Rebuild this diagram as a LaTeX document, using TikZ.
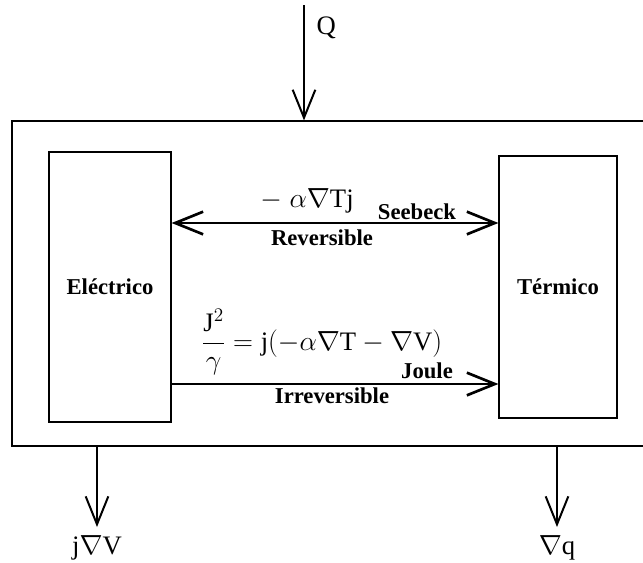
\documentclass[tikz,border=0pt]{standalone}
\usepackage{fontspec}
\setmainfont{Liberation Serif}
\usetikzlibrary{arrows.meta}
\tikzset{
  block/.style={draw, line width=0.9pt, font=\fontsize{17}{19}\selectfont\bfseries},
  flow/.style={line width=1.5pt, -{Straight Barb[length=21pt,width=17pt]}},
  tag/.style={font=\fontsize{17}{19}\selectfont\bfseries},
  eqn/.style={font=\fontsize{20}{23}\selectfont},
}

\begin{document}
\begin{tikzpicture}[x=0.75pt, y=-0.75pt]%
  \def\px{0.75pt}%
  \useasboundingbox (0,0) rectangle (643,562);
  \clip (0,0) rectangle (643,562);

  %system box
  \node[draw, line width=0.9pt, minimum width=642*\px, minimum height=325*\px] (sys) at (333,283.5) {};
  %subsystems
  \node[block, minimum width=122*\px, minimum height=270*\px] (elec) at (110,287) {Eléctrico};
  \node[block, minimum width=118*\px, minimum height=262*\px] (term) at (558,287) {Térmico};

  %reversible coupling
  \coordinate (rev) at (0,223);
  \draw[flow, line width=2pt, {Straight Barb[length=21pt,width=17pt]}-{Straight Barb[length=21pt,width=17pt]}]
    (rev -| elec.east) -- (rev -| term.west);
  \node[eqn] (seeq) at (307,201) {$-\;\alpha\nabla\mathrm{Tj}$};
  \node[tag] (seeb) at (417,212) {Seebeck};
  \node[tag] (revl) at (322,238) {Reversible};

  %irreversible coupling
  \coordinate (irr) at (0,384);
  \draw[flow, line width=2pt] (irr -| elec.east) -- (irr -| term.west);
  \node[eqn] (joeq) at (322,342) {$\displaystyle\frac{\mathrm{J}^2}{\gamma} = \mathrm{j}\bigl(-\alpha\nabla\mathrm{T}-\nabla\mathrm{V}\bigr)$};
  \node[tag] (joul) at (427,371) {Joule};
  \node[tag] (irrl) at (332,396) {Irreversible};

  %heat in
  \coordinate (qin) at (304,5);
  \draw[flow] (qin) -- (qin |- sys.north);
  \node[eqn, anchor=west] (q) at (312,28) {Q};

  %outputs
  \node[eqn] (jv) at (97,548) {$\mathrm{j}\nabla\mathrm{V}$};
  \node[eqn] (gq) at (557,548) {$\nabla\mathrm{q}$};
  \coordinate (jvend) at (97,527);
  \coordinate (gqend) at (557,527);
  \draw[flow] (jvend |- sys.south) -- (jvend);
  \draw[flow] (gqend |- sys.south) -- (gqend);
\end{tikzpicture}
\end{document}
